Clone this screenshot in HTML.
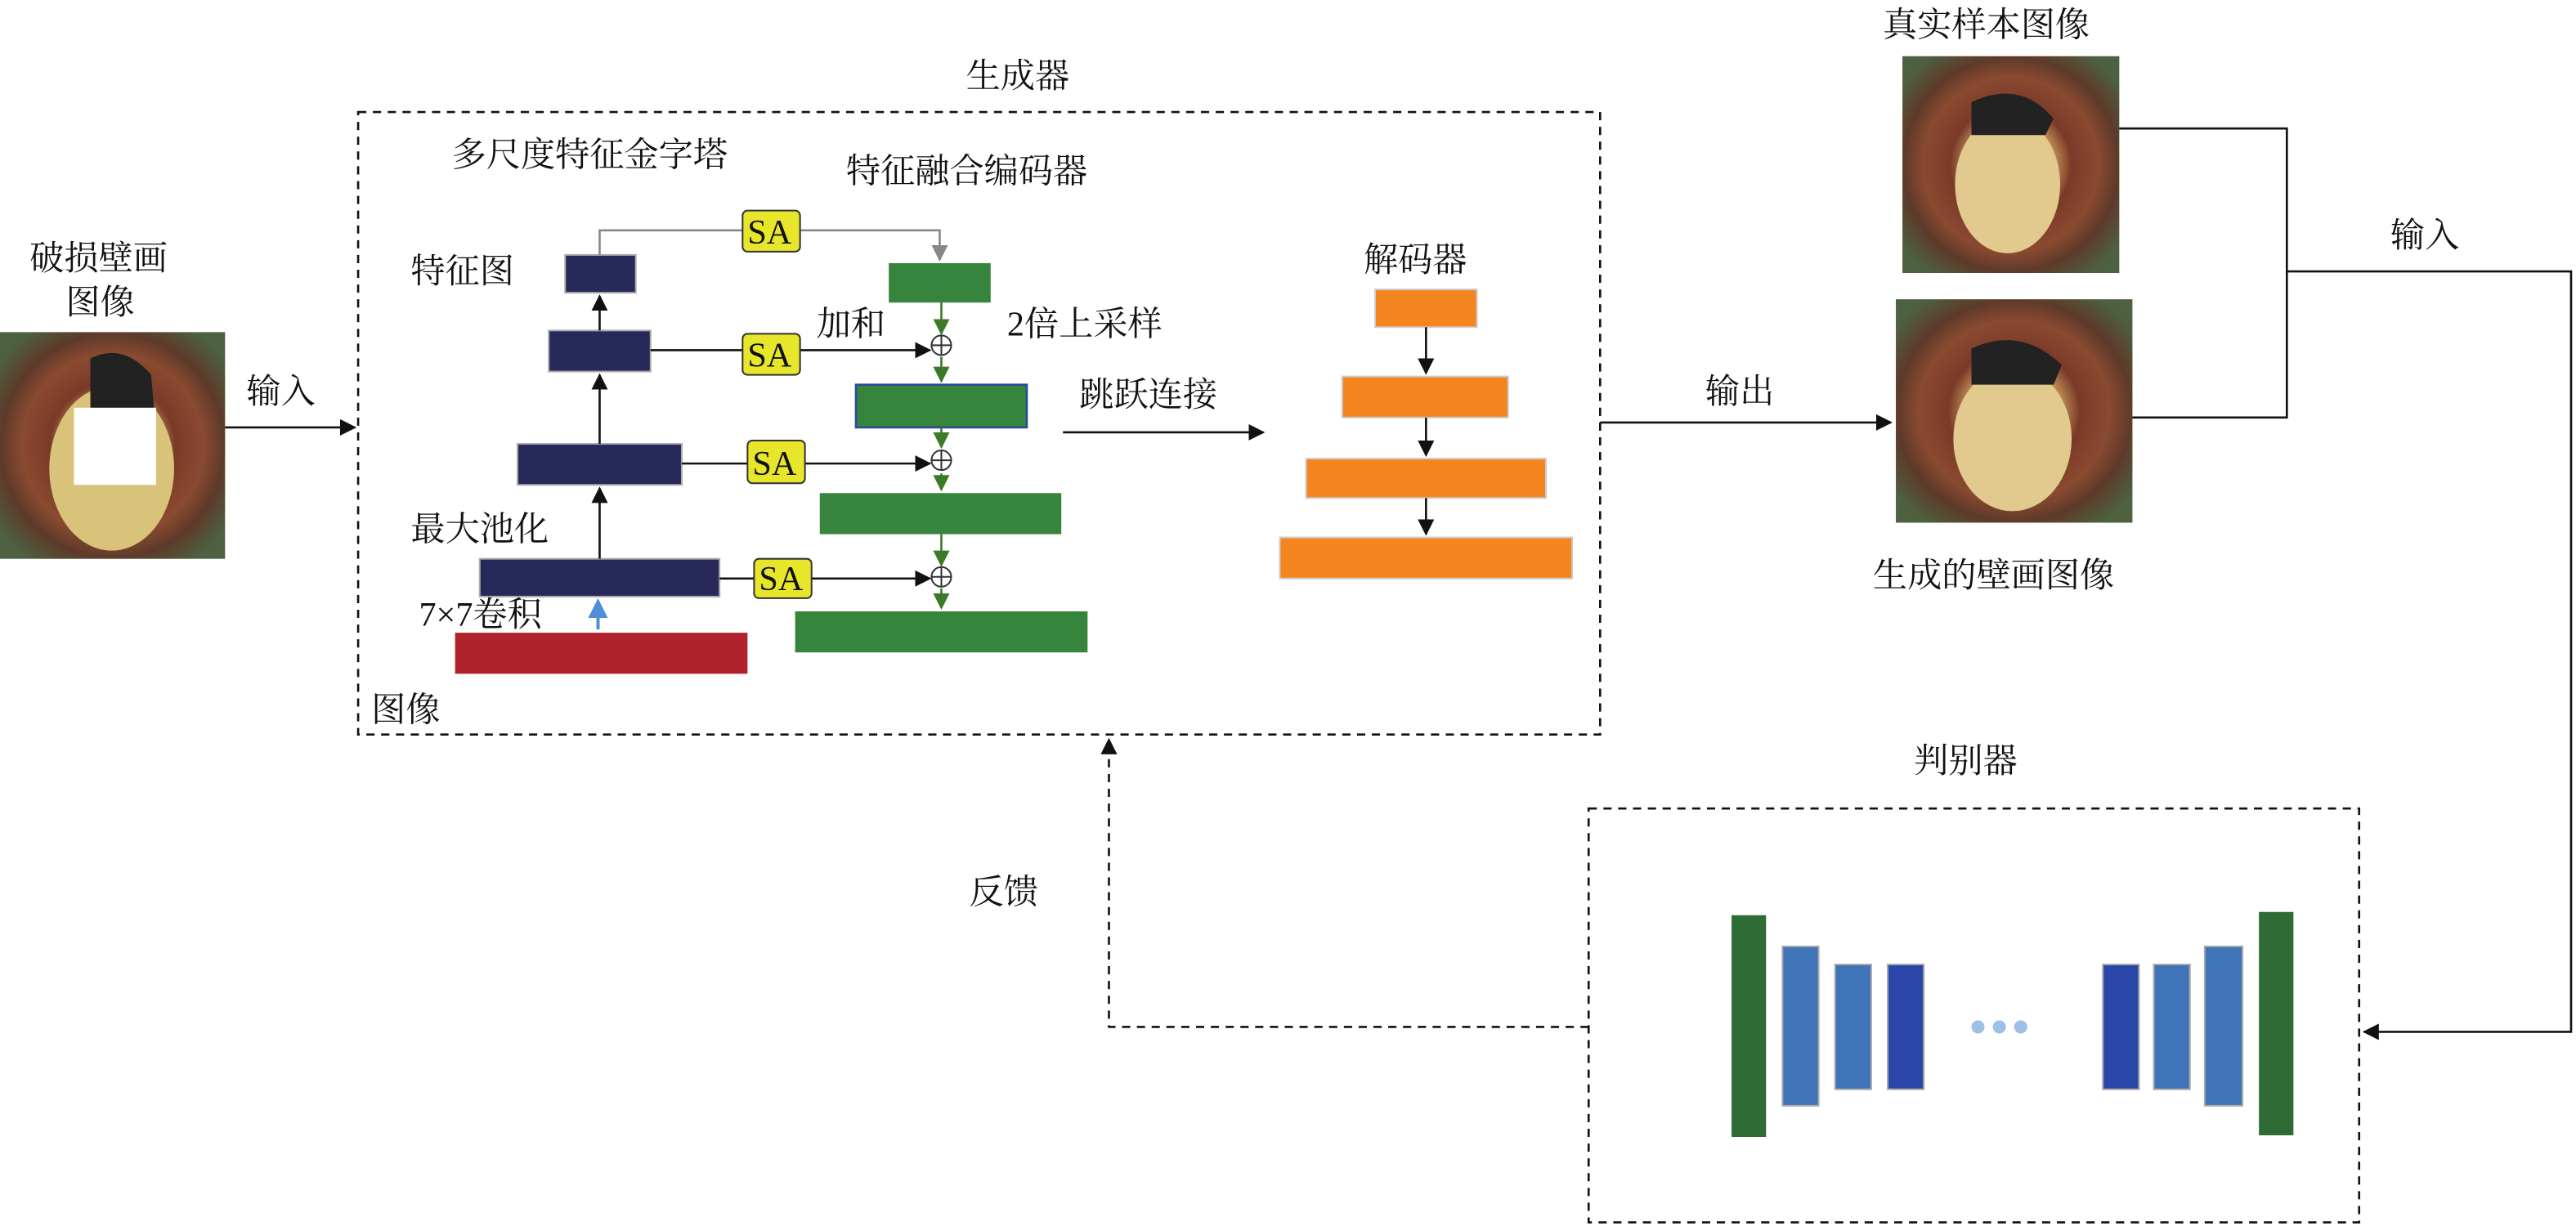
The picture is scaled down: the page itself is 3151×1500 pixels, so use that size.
<!DOCTYPE html>
<html><head><meta charset="utf-8"><style>
html,body{margin:0;padding:0;background:#fff;}
svg{display:block}
text{font-family:"Liberation Serif","Noto Serif CJK SC","Noto Sans CJK SC",serif;font-size:21px;fill:#111}
</style></head><body>
<svg width="3151" height="1500" viewBox="0 0 1568 746" xmlns="http://www.w3.org/2000/svg">
<defs>
<marker id="a" markerWidth="10" markerHeight="10" refX="9" refY="5" orient="auto" markerUnits="userSpaceOnUse"><path d="M0,0 L10,5 L0,10 z" fill="#111"/></marker>
<marker id="g" markerWidth="10" markerHeight="10" refX="9" refY="5" orient="auto" markerUnits="userSpaceOnUse"><path d="M0,0 L10,5 L0,10 z" fill="#888"/></marker>
<marker id="gr" markerWidth="10" markerHeight="10" refX="9" refY="5" orient="auto" markerUnits="userSpaceOnUse"><path d="M0,0 L10,5 L0,10 z" fill="#3c7a2a"/></marker>
<marker id="bl" markerWidth="12" markerHeight="12" refX="10" refY="6" orient="auto" markerUnits="userSpaceOnUse"><path d="M0,0 L12,6 L0,12 z" fill="#4f8fd6"/></marker>
<radialGradient id="mural" cx="50%" cy="50%" r="62%"><stop offset="0" stop-color="#d4b36a"/><stop offset="0.3" stop-color="#c99d5c"/><stop offset="0.45" stop-color="#7a3a28"/><stop offset="0.65" stop-color="#8a4a30"/><stop offset="0.8" stop-color="#5e3a2a"/><stop offset="1" stop-color="#4d6040"/></radialGradient>
</defs>
<rect width="1568" height="746" fill="#fff"/>

<rect x="218" y="68" width="756" height="379" fill="none" stroke="#111" stroke-width="1.3" stroke-dasharray="5,4"/>
<text x="588" y="53">生成器</text>
<text x="275" y="101">多尺度特征金字塔</text>
<text x="515" y="111">特征融合编码器</text>

<rect x="0" y="202" width="137" height="138" fill="url(#mural)"/>
<ellipse cx="68" cy="285" rx="38" ry="50" fill="#d9c27a"/>
<path d="M55,218 Q75,208 92,228 L94,252 L55,252z" fill="#222"/>
<rect x="45" y="248" width="50" height="47" fill="#fff"/>
<text x="18" y="164">破损壁画</text>
<text x="40" y="191">图像</text>
<line x1="137" y1="260" x2="216" y2="260" stroke="#111" stroke-width="1.3" marker-end="url(#a)"/>
<text x="150" y="245">输入</text>

<rect x="344" y="155" width="43" height="23" fill="#27295a" stroke="#aaa"/>
<rect x="334" y="201" width="62" height="25" fill="#27295a" stroke="#aaa"/>
<rect x="315" y="270" width="100" height="25" fill="#27295a" stroke="#aaa"/>
<rect x="292" y="340" width="146" height="23" fill="#27295a" stroke="#aaa"/>
<rect x="277" y="385" width="178" height="25" fill="#b0222c"/>
<line x1="365" y1="340" x2="365" y2="297" stroke="#111" stroke-width="1.3" marker-end="url(#a)"/>
<line x1="365" y1="270" x2="365" y2="228" stroke="#111" stroke-width="1.3" marker-end="url(#a)"/>
<line x1="365" y1="201" x2="365" y2="180" stroke="#111" stroke-width="1.3" marker-end="url(#a)"/>
<line x1="364" y1="383" x2="364" y2="366" stroke="#4f8fd6" stroke-width="2" marker-end="url(#bl)"/>
<text x="250" y="172">特征图</text>
<text x="250" y="329">最大池化</text>
<text x="255" y="381">7×7卷积</text>
<text x="226" y="439">图像</text>

<polyline points="365,155 365,140 572,140 572,158" fill="none" stroke="#888" stroke-width="1.3" marker-end="url(#g)"/>

<line x1="396" y1="213" x2="566" y2="213" stroke="#111" stroke-width="1.3" marker-end="url(#a)"/>
<line x1="415" y1="282" x2="566" y2="282" stroke="#111" stroke-width="1.3" marker-end="url(#a)"/>
<line x1="438" y1="352" x2="566" y2="352" stroke="#111" stroke-width="1.3" marker-end="url(#a)"/>

<rect x="452" y="128" width="35" height="25" rx="3" fill="#e8e62a" stroke="#333"/><text x="455" y="148" font-size="19">SA</text>
<rect x="452" y="203" width="35" height="25" rx="3" fill="#e8e62a" stroke="#333"/><text x="455" y="223" font-size="19">SA</text>
<rect x="455" y="268" width="35" height="26" rx="3" fill="#e8e62a" stroke="#333"/><text x="458" y="289" font-size="19">SA</text>
<rect x="459" y="340" width="35" height="24" rx="3" fill="#e8e62a" stroke="#333"/><text x="462" y="359" font-size="19">SA</text>

<rect x="541" y="160" width="62" height="24" fill="#37843c"/>
<rect x="521" y="234" width="104" height="26" fill="#37843c" stroke="#2a4a9a" stroke-width="1.3"/>
<rect x="499" y="300" width="147" height="25" fill="#37843c"/>
<rect x="484" y="372" width="178" height="25" fill="#37843c"/>
<g stroke="#3c7a2a" stroke-width="1.3" fill="none">
<line x1="573" y1="184" x2="573" y2="203" marker-end="url(#gr)"/>
<line x1="573" y1="217" x2="573" y2="232" marker-end="url(#gr)"/>
<line x1="573" y1="260" x2="573" y2="272" marker-end="url(#gr)"/>
<line x1="573" y1="288" x2="573" y2="298" marker-end="url(#gr)"/>
<line x1="573" y1="325" x2="573" y2="344" marker-end="url(#gr)"/>
<line x1="573" y1="358" x2="573" y2="370" marker-end="url(#gr)"/>
</g>
<g fill="#fff" stroke="#333" stroke-width="1">
<circle cx="573" cy="210" r="6"/><circle cx="573" cy="280" r="6"/><circle cx="573" cy="351" r="6"/>
</g>
<g stroke="#333" stroke-width="1">
<line x1="567" y1="210" x2="579" y2="210"/><line x1="573" y1="204" x2="573" y2="216"/>
<line x1="567" y1="280" x2="579" y2="280"/><line x1="573" y1="274" x2="573" y2="286"/>
<line x1="567" y1="351" x2="579" y2="351"/><line x1="573" y1="345" x2="573" y2="357"/>
</g>
<text x="497" y="204">加和</text>
<text x="613" y="204">2倍上采样</text>

<text x="657" y="247">跳跃连接</text>
<line x1="647" y1="263" x2="769" y2="263" stroke="#111" stroke-width="1.3" marker-end="url(#a)"/>

<text x="830" y="165">解码器</text>
<rect x="837" y="176" width="62" height="23" fill="#f5861f" stroke="#ccc"/>
<rect x="817" y="229" width="101" height="25" fill="#f5861f" stroke="#ccc"/>
<rect x="795" y="279" width="146" height="24" fill="#f5861f" stroke="#ccc"/>
<rect x="779" y="327" width="178" height="25" fill="#f5861f" stroke="#ccc"/>
<g stroke="#111" stroke-width="1.3">
<line x1="868" y1="199" x2="868" y2="227" marker-end="url(#a)"/>
<line x1="868" y1="254" x2="868" y2="277" marker-end="url(#a)"/>
<line x1="868" y1="303" x2="868" y2="325" marker-end="url(#a)"/>
</g>

<line x1="974" y1="257" x2="1151" y2="257" stroke="#111" stroke-width="1.3" marker-end="url(#a)"/>
<text x="1038" y="245">输出</text>

<rect x="1158" y="34" width="132" height="132" fill="url(#mural)"/>
<ellipse cx="1222" cy="112" rx="32" ry="42" fill="#e2c98e"/>
<path d="M1200,62 Q1230,48 1250,72 L1245,82 L1200,82z" fill="#222"/>
<text x="1146" y="22">真实样本图像</text>
<rect x="1154" y="182" width="144" height="136" fill="url(#mural)"/>
<ellipse cx="1225" cy="267" rx="36" ry="44" fill="#e2c98e"/>
<path d="M1200,212 Q1230,198 1255,222 L1250,234 L1200,234z" fill="#222"/>
<text x="1140" y="357">生成的壁画图像</text>

<polyline points="1290,78 1392,78 1392,254 1298,254" fill="none" stroke="#111" stroke-width="1.3"/>
<polyline points="1392,165 1565,165 1565,628 1439,628" fill="none" stroke="#111" stroke-width="1.3" marker-end="url(#a)"/>
<text x="1455" y="150">输入</text>

<text x="1165" y="470">判别器</text>
<rect x="967" y="492" width="469" height="252" fill="none" stroke="#111" stroke-width="1.3" stroke-dasharray="5,4"/>
<rect x="1054" y="557" width="21" height="135" fill="#2e6b35"/>
<rect x="1085" y="576" width="22" height="97" fill="#3f74b8" stroke="#aaa"/>
<rect x="1117" y="587" width="22" height="76" fill="#3f74b8" stroke="#aaa"/>
<rect x="1149" y="587" width="22" height="76" fill="#2a46a8" stroke="#aaa"/>
<circle cx="1204" cy="625" r="4" fill="#9cc0e6"/><circle cx="1217" cy="625" r="4" fill="#9cc0e6"/><circle cx="1230" cy="625" r="4" fill="#9cc0e6"/>
<rect x="1280" y="587" width="22" height="76" fill="#2a46a8" stroke="#aaa"/>
<rect x="1311" y="587" width="22" height="76" fill="#3f74b8" stroke="#aaa"/>
<rect x="1342" y="576" width="23" height="97" fill="#3f74b8" stroke="#aaa"/>
<rect x="1375" y="555" width="21" height="136" fill="#2e6b35"/>

<polyline points="967,625 675,625 675,450" fill="none" stroke="#111" stroke-width="1.3" stroke-dasharray="5,4" marker-end="url(#a)"/>
<text x="590" y="550">反馈</text>
</svg>
</body></html>
